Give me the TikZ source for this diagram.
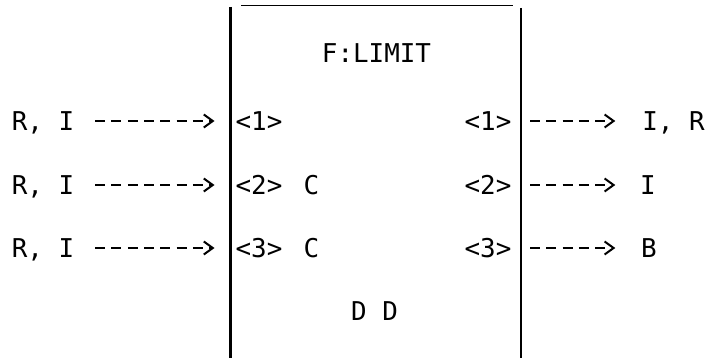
\documentclass[tikz,border=0pt]{standalone}
\usepackage{fontspec}
\setmonofont{DejaVu Sans Mono}
\usetikzlibrary{arrows.meta}
\begin{document}
\begin{tikzpicture}[x=1pt,y=-1pt,
  txt/.style={font=\ttfamily\fontsize{25.9}{30}\selectfont, inner sep=0pt, anchor=base},
  flow/.style={line width=2pt, dash pattern=on 10pt off 6.3pt,
    -{Straight Barb[length=9pt,width=13pt,sep=6.5pt]}},
  boxline/.style={line width=2.4pt},
  topline/.style={line width=1.5pt}]
\useasboundingbox (0,0) rectangle (707,358);

% box
\coordinate (bl1) at (230.5,7);
\coordinate (bl2) at (230.5,358);
\coordinate (br1) at (521,8);
\coordinate (br2) at (521,358);
\coordinate (bt1) at (241,5.5);
\coordinate (bt2) at (513,5.5);
\draw[boxline] (bl1) -- (bl2);
\draw[boxline] (br1) -- (br2);
\draw[topline] (bt1) -- (bt2);

% texts inside box
\node[txt] (title) at (376.5,62.5) {F:LIMIT};
\node[txt] (dd) at (374.5,320.5) {D D};
\node[txt] (p1) at (259,130.5) {<1>};
\node[txt] (p2) at (259,194.5) {<2>};
\node[txt] (p3) at (259,257.5) {<3>};
\node[txt] (c2) at (311.5,194.5) {C};
\node[txt] (c3) at (311.5,257.5) {C};
\node[txt] (q1) at (488,130.5) {<1>};
\node[txt] (q2) at (488,194.5) {<2>};
\node[txt] (q3) at (488,257.5) {<3>};

% outer labels
\node[txt] (a1) at (43,130.5) {R, I};
\node[txt] (a2) at (43,194.5) {R, I};
\node[txt] (a3) at (43,257.5) {R, I};
\node[txt] (o1) at (673.5,130.5) {I, R};
\node[txt] (o2) at (648,194.5) {I};
\node[txt] (o3) at (649,257.5) {B};

% ports
\coordinate (in1) at (221,121);
\coordinate (in2) at (221,185);
\coordinate (in3) at (221,248);
\coordinate (out1) at (530,121);
\coordinate (out2) at (530,185);
\coordinate (out3) at (530,248);

% connectors
\draw[flow, shorten <=20.8pt] (a1.east |- in1) -- (in1);
\draw[flow, shorten <=20.8pt] (a2.east |- in2) -- (in2);
\draw[flow, shorten <=20.8pt] (a3.east |- in3) -- (in3);
\draw[flow, shorten >=20.3pt] (out1) -- (o1.west |- out1);
\draw[flow, shorten >=18.2pt] (out2) -- (o2.west |- out2);
\draw[flow, shorten >=19.2pt] (out3) -- (o3.west |- out3);
\end{tikzpicture}
\end{document}
